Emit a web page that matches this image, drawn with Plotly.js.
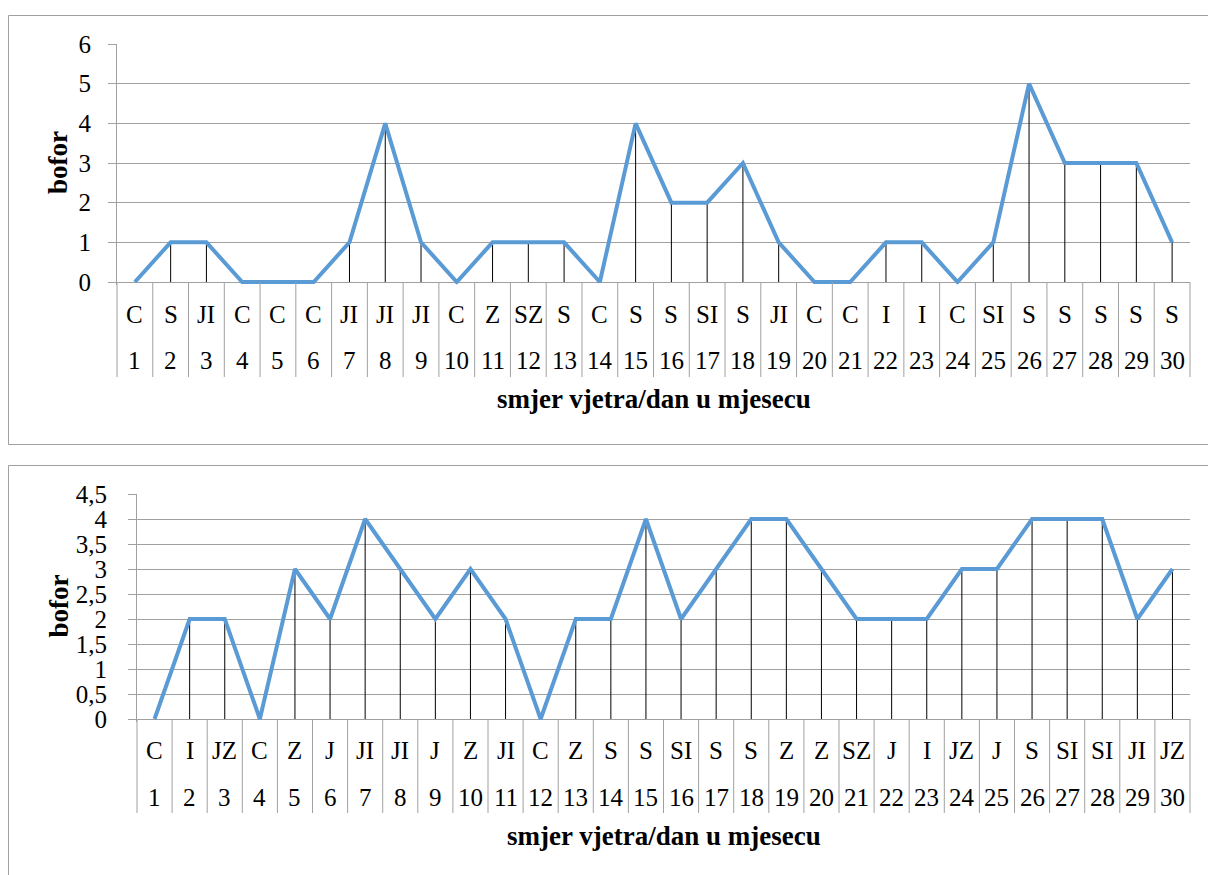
<!DOCTYPE html>
<html><head><meta charset="utf-8">
<script src="https://cdn.plot.ly/plotly-3.0.1.min.js"></script>
<style>html,body{margin:0;padding:0;background:#fff;}#chart{width:1208px;height:875px;}</style>
</head><body><div id="chart"></div>
<script>
// ---- data ----
const days = [1,2,3,4,5,6,7,8,9,10,11,12,13,14,15,16,17,18,19,20,21,22,23,24,25,26,27,28,29,30];
const dirsTop = ['C','S','JI','C','C','C','JI','JI','JI','C','Z','SZ','S','C','S','S','SI','S','JI','C','C','I','I','C','SI','S','S','S','S','S'];
const boforTop = [0,1,1,0,0,0,1,4,1,0,1,1,1,0,4,2,2,3,1,0,0,1,1,0,1,5,3,3,3,1];
const dirsBottom = ['C','I','JZ','C','Z','J','JI','JI','J','Z','JI','C','Z','S','S','SI','S','S','Z','Z','SZ','J','I','JZ','J','S','SI','SI','JI','JZ'];
const boforBottom = [0,2,2,0,3,2,4,3,2,3,2,0,2,2,4,2,3,4,4,3,2,2,2,3,3,4,4,4,2,3];
const yTitle = 'bofor';
const xTitle = 'smjer vjetra/dan u mjesecu';

// ---- layout helpers ----
const W = 1208, H = 875;
const px = v => v / W;
const py = v => 1 - v / H;
const FONT = 'Liberation Serif';
const GREY = '#A0A0A0';
const BLUE = '#5B9BD5';

const panels = [
  {xa:'x', ya:'y', dirs:dirsTop, vals:boforTop, xL:117, xR:1190, yZero:282, yTop:44, yMax:6, dtick:1,
   dirY:314, dayY:360, sepBottom:377, titleY:399, boforX:58, box:{t:15.5, b:444.5}, standoff:12},
  {xa:'x2', ya:'y2', dirs:dirsBottom, vals:boforBottom, xL:137, xR:1190, yZero:719, yTop:494, yMax:4.5, dtick:0.5,
   dirY:750, dayY:797, sepBottom:813, titleY:836, boforX:58, box:{t:465.5, b:900}, standoff:16}
];

const data = [];
const shapes = [];
const annotations = [];
const layout = {
  width: W, height: H,
  margin: {l:0, r:0, t:0, b:0},
  paper_bgcolor: '#fff', plot_bgcolor: 'rgba(0,0,0,0)',
  showlegend: false,
  separators: ', ',
  font: {family: FONT, size: 25, color: '#000'},
  shapes, annotations
};

panels.forEach((p, k) => {
  const sfx = k === 0 ? '' : '2';
  const unit = (p.yZero - p.yTop) / p.yMax;
  const padUnits = 2.5 / unit;
  const bottomPx = p.yZero + padUnits * unit;

  // drop lines
  const dx = [], dy = [];
  days.forEach((d, i) => { dx.push(d, d, null); dy.push(0, p.vals[i], null); });
  data.push({type:'scatter', mode:'lines', x:dx, y:dy, xaxis:p.xa, yaxis:p.ya,
             line:{color:'#000', width:1}, hoverinfo:'skip'});
  // main line
  data.push({type:'scatter', mode:'lines', x:days, y:p.vals, xaxis:p.xa, yaxis:p.ya,
             line:{color:BLUE, width:4}});

  layout['xaxis' + sfx] = {
    domain:[px(p.xL), px(p.xR)], range:[0.5, 30.5], anchor:p.ya,
    showgrid:false, zeroline:false, showline:false, showticklabels:false, ticks:'', fixedrange:true
  };
  layout['yaxis' + sfx] = {
    domain:[py(bottomPx), py(p.yTop)], range:[-padUnits, p.yMax], anchor:p.xa,
    tick0:0, dtick:p.dtick, showgrid:true, gridcolor:GREY, gridwidth:1, zeroline:false,
    showline:true, linecolor:GREY, linewidth:1, ticks:'outside', ticklen:8, tickcolor:GREY, tickwidth:1,
    tickfont:{family:FONT, size:25, color:'#000'}, ticklabelstandoff:p.standoff, fixedrange:true
  };

  // panel border
  shapes.push({type:'rect', xref:'paper', yref:'paper', x0:px(8.5), x1:1.02, y0:py(p.box.b), y1:py(p.box.t),
               line:{color:GREY, width:1}, fillcolor:'rgba(0,0,0,0)', layer:'below'});

  // category separators
  const y0 = py(p.sepBottom), y1 = py(p.yZero);
  shapes.push({type:'line', xref:p.xa + ' domain', yref:'paper', x0:0, x1:0, y0, y1, line:{color:GREY, width:1}});
  shapes.push({type:'line', xref:p.xa + ' domain', yref:'paper', x0:1, x1:1, y0, y1, line:{color:GREY, width:1}});
  days.slice(0, -1).forEach(d => {
    shapes.push({type:'line', xref:p.xa, yref:'paper', x0:d + 0.5, x1:d + 0.5, y0, y1, line:{color:GREY, width:1}});
  });

  // two-row category labels
  days.forEach((d, i) => {
    annotations.push({xref:p.xa, yref:'paper', x:d, y:py(p.dirY), text:p.dirs[i], showarrow:false,
                      xanchor:'center', yanchor:'middle', font:{family:FONT, size:25, color:'#000'}});
    annotations.push({xref:p.xa, yref:'paper', x:d, y:py(p.dayY), text:String(d), showarrow:false,
                      xanchor:'center', yanchor:'middle', font:{family:FONT, size:25, color:'#000'}});
  });

  // titles
  annotations.push({xref:p.xa + ' domain', yref:'paper', x:0.5, y:py(p.titleY), text:'<b>' + xTitle + '</b>',
                    showarrow:false, xanchor:'center', yanchor:'middle', font:{family:FONT, size:27, color:'#000'}});
  annotations.push({xref:'paper', yref:'paper', x:px(p.boforX), y:py((p.yZero + p.yTop) / 2), text:'<b>' + yTitle + '</b>',
                    textangle:-90, showarrow:false, xanchor:'center', yanchor:'middle', font:{family:FONT, size:27, color:'#000'}});
});

Plotly.newPlot('chart', data, layout, {displayModeBar:false, staticPlot:true});
</script>
</body></html>
